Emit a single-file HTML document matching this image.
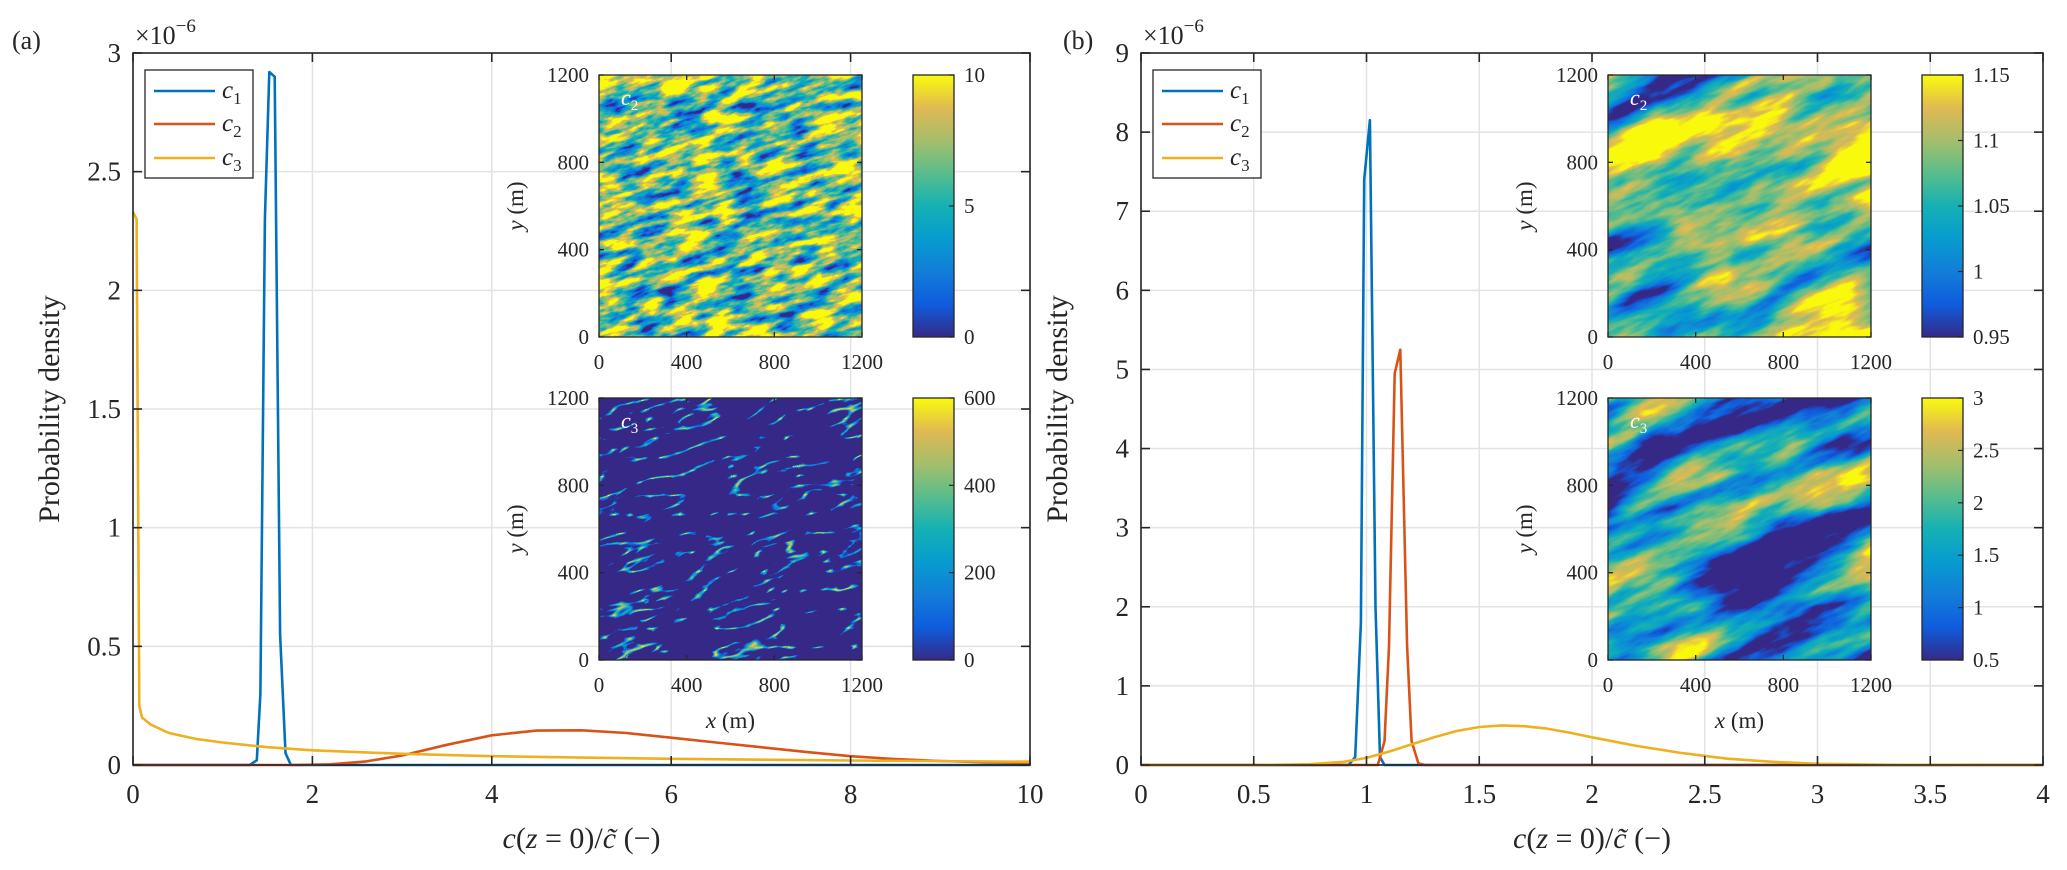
<!DOCTYPE html>
<html><head><meta charset="utf-8"><style>
html,body{margin:0;padding:0;background:#fff}
svg{display:block;font-family:"Liberation Serif","DejaVu Serif",serif}
</style></head><body>
<svg id="fig" width="2067" height="870" viewBox="0 0 2067 870" xmlns="http://www.w3.org/2000/svg">
<defs>
<linearGradient id="parula" x1="0" y1="1" x2="0" y2="0">
<stop offset="0" stop-color="#352a87"/><stop offset="0.125" stop-color="#0f5cdd"/><stop offset="0.25" stop-color="#127dd8"/><stop offset="0.375" stop-color="#079ccf"/><stop offset="0.5" stop-color="#15b1b4"/><stop offset="0.625" stop-color="#59bd8c"/><stop offset="0.75" stop-color="#a5be6b"/><stop offset="0.875" stop-color="#e1b952"/><stop offset="1" stop-color="#f9fb0e"/>
</linearGradient>
<filter id="fa2" x="0" y="0" width="1" height="1" color-interpolation-filters="sRGB">
<feTurbulence type="fractalNoise" baseFrequency="0.03 0.1" numOctaves="4" seed="3"/>
<feColorMatrix type="matrix" values="2.4 0 0 0 -0.55  2.4 0 0 0 -0.55  2.4 0 0 0 -0.55  0 0 0 0 1"/>
<feComponentTransfer><feFuncR type="table" tableValues="0.21 0.06 0.07 0.03 0.08 0.35 0.65 0.88 0.98"/><feFuncG type="table" tableValues="0.16 0.36 0.49 0.61 0.69 0.74 0.75 0.73 0.98"/><feFuncB type="table" tableValues="0.53 0.87 0.85 0.81 0.71 0.55 0.42 0.32 0.05"/></feComponentTransfer>
</filter>
<filter id="fa3" x="0" y="0" width="1" height="1" color-interpolation-filters="sRGB">
<feTurbulence type="turbulence" baseFrequency="0.016 0.05" numOctaves="3" seed="7"/>
<feColorMatrix type="matrix" values="-8 0 0 0 1.1  -8 0 0 0 1.1  -8 0 0 0 1.1  0 0 0 0 1"/>
<feComponentTransfer><feFuncR type="table" tableValues="0.21 0.06 0.07 0.03 0.08 0.35 0.65 0.88 0.98"/><feFuncG type="table" tableValues="0.16 0.36 0.49 0.61 0.69 0.74 0.75 0.73 0.98"/><feFuncB type="table" tableValues="0.53 0.87 0.85 0.81 0.71 0.55 0.42 0.32 0.05"/></feComponentTransfer>
</filter>
<filter id="fb2" x="0" y="0" width="1" height="1" color-interpolation-filters="sRGB">
<feTurbulence type="fractalNoise" baseFrequency="0.006 0.022" numOctaves="5" seed="11"/>
<feColorMatrix type="matrix" values="2.6 0 0 0 -0.65  2.6 0 0 0 -0.65  2.6 0 0 0 -0.65  0 0 0 0 1"/>
<feComponentTransfer><feFuncR type="table" tableValues="0.21 0.06 0.07 0.03 0.08 0.35 0.65 0.88 0.98"/><feFuncG type="table" tableValues="0.16 0.36 0.49 0.61 0.69 0.74 0.75 0.73 0.98"/><feFuncB type="table" tableValues="0.53 0.87 0.85 0.81 0.71 0.55 0.42 0.32 0.05"/></feComponentTransfer>
</filter>
<filter id="fb3" x="0" y="0" width="1" height="1" color-interpolation-filters="sRGB">
<feTurbulence type="fractalNoise" baseFrequency="0.006 0.022" numOctaves="5" seed="11"/>
<feColorMatrix type="matrix" values="2.6 0 0 0 -0.9  2.6 0 0 0 -0.9  2.6 0 0 0 -0.9  0 0 0 0 1"/>
<feComponentTransfer><feFuncR type="table" tableValues="0.21 0.06 0.07 0.03 0.08 0.35 0.65 0.88 0.98"/><feFuncG type="table" tableValues="0.16 0.36 0.49 0.61 0.69 0.74 0.75 0.73 0.98"/><feFuncB type="table" tableValues="0.53 0.87 0.85 0.81 0.71 0.55 0.42 0.32 0.05"/></feComponentTransfer>
</filter>
</defs>
</svg>
<script>
// ---- Panel (a) data (y in units of 1e-6) ----
const aC1x = [0, 1.3, 1.38, 1.42, 1.47, 1.52, 1.58, 1.64, 1.7, 1.76, 10];
const aC1y = [0, 0, 0.02, 0.3, 2.3, 2.92, 2.9, 0.55, 0.05, 0, 0];
const aC2x = [0, 1.8, 2.2, 2.6, 3, 3.5, 4, 4.5, 5, 5.5, 6, 6.5, 7, 7.5, 8, 8.5, 9, 9.5, 10];
const aC2y = [0, 0, 0.003, 0.015, 0.04, 0.085, 0.125, 0.145, 0.146, 0.135, 0.115, 0.095, 0.075, 0.055, 0.037, 0.025, 0.017, 0.012, 0.009];
const aC3x = [0, 0.04, 0.07, 0.1, 0.2, 0.4, 0.7, 1, 1.5, 2, 3, 4, 5, 6, 8, 10];
const aC3y = [2.33, 2.3, 0.25, 0.2, 0.17, 0.135, 0.11, 0.095, 0.075, 0.062, 0.047, 0.037, 0.031, 0.026, 0.019, 0.014];
const aXTicks = [0, 2, 4, 6, 8, 10];
const aYTicks = [0, 0.5, 1, 1.5, 2, 2.5, 3];
const aYTickLabels = ["0", "0.5", "1", "1.5", "2", "2.5", "3"];
// ---- Panel (b) data ----
const bC1x = [0, 0.92, 0.95, 0.975, 0.99, 1.015, 1.04, 1.06, 1.08, 4];
const bC1y = [0, 0, 0.1, 1.8, 7.4, 8.15, 2.0, 0.1, 0, 0];
const bC2x = [0, 1.05, 1.08, 1.1, 1.125, 1.15, 1.18, 1.2, 1.23, 1.26, 4];
const bC2y = [0, 0, 0.3, 1.5, 4.95, 5.25, 1.5, 0.3, 0.02, 0, 0];
const bC3x = [0, 0.5, 0.75, 0.9, 1.0, 1.1, 1.2, 1.3, 1.4, 1.5, 1.6, 1.7, 1.8, 1.9, 2.0, 2.2, 2.4, 2.6, 2.8, 3.0, 3.3, 3.6, 4];
const bC3y = [0, 0, 0.01, 0.04, 0.09, 0.17, 0.26, 0.35, 0.43, 0.48, 0.5, 0.49, 0.46, 0.41, 0.35, 0.24, 0.15, 0.08, 0.04, 0.015, 0.004, 0.001, 0];
const bXTicks = [0, 0.5, 1, 1.5, 2, 2.5, 3, 3.5, 4];
const bXTickLabels = ["0", "0.5", "1", "1.5", "2", "2.5", "3", "3.5", "4"];
const bYTicks = [0, 1, 2, 3, 4, 5, 6, 7, 8, 9];
// ---- inset colorbar ticks ----
const insetTicks = [0, 400, 800, 1200];
const cbA2 = [0, 5, 10];
const cbA3 = [0, 200, 400, 600];
const cbB2 = [0.95, 1, 1.05, 1.1, 1.15];
const cbB2Labels = ["0.95", "1", "1.05", "1.1", "1.15"];
const cbB3 = [0.5, 1, 1.5, 2, 2.5, 3];

const NS = "http://www.w3.org/2000/svg";
const svg = document.getElementById('fig');
function el(tag, attrs, parent, text) {
  const e = document.createElementNS(NS, tag);
  for (const k in attrs) e.setAttribute(k, attrs[k]);
  if (text !== undefined) e.textContent = text;
  (parent || svg).appendChild(e);
  return e;
}
const COLORS = ["#0072BD", "#D95319", "#EDB120"];

function panel(cfg) {
  const g = el('g', {});
  
  
  const X = v => cfg.x0 + (v - cfg.xmin) / (cfg.xmax - cfg.xmin) * (cfg.x1 - cfg.x0);
  const Y = v => cfg.y1 - (v - cfg.ymin) / (cfg.ymax - cfg.ymin) * (cfg.y1 - cfg.y0);
  const grid = el('g', {stroke: '#e3e3e3', 'stroke-width': 1.5}, g);
  
  
  cfg.xt.forEach(v => el('line', {x1: X(v), x2: X(v), y1: cfg.y0, y2: cfg.y1}, grid));
  cfg.yt.forEach(v => el('line', {x1: cfg.x0, x2: cfg.x1, y1: Y(v), y2: Y(v)}, grid));
  cfg.xt.forEach((v, i) => {
    const t = el('text', {x: X(v), y: 803, 'text-anchor': 'middle', 'font-size': 27, fill: '#262626'}, g, cfg.xl[i]);
    
    
  });
  cfg.yt.forEach((v, i) => {
    const t = el('text', {x: cfg.x0 - 12, y: Y(v) + 9, 'text-anchor': 'end', 'font-size': 27, fill: '#262626'}, g, cfg.yl[i]);
    
    
  });
  cfg.series.forEach((s, k) => {
    const d = s[0].map((v, i) => (i ? 'L' : 'M') + X(v).toFixed(1) + ',' + Y(s[1][i]).toFixed(1)).join('');
    const p = el('path', {d: d, fill: 'none', stroke: COLORS[k], 'stroke-width': 2.6, 'stroke-linejoin': 'round'}, g);
    
    
  });
  const fr = el('g', {stroke: '#262626', 'stroke-width': 1.6, fill: 'none'}, g);
  
  
  el('rect', {x: cfg.x0, y: cfg.y0, width: cfg.x1 - cfg.x0, height: cfg.y1 - cfg.y0}, fr);
  cfg.xt.forEach(v => {
    el('line', {x1: X(v), x2: X(v), y1: cfg.y1, y2: cfg.y1 - 9}, fr);
    el('line', {x1: X(v), x2: X(v), y1: cfg.y0, y2: cfg.y0 + 9}, fr);
  });
  cfg.yt.forEach(v => {
    el('line', {x1: cfg.x0, x2: cfg.x0 + 9, y1: Y(v), y2: Y(v)}, fr);
    el('line', {x1: cfg.x1, x2: cfg.x1 - 9, y1: Y(v), y2: Y(v)}, fr);
  });
  const lab = el('text', {x: cfg.labX, y: 49, 'font-size': 26, fill: '#262626'}, g, cfg.label);
  
  
  const ex = el('text', {x: cfg.x0 + 2, y: 44, 'font-size': 26, fill: '#262626'}, g);
  
  
  ex.innerHTML = '×10<tspan dy="-12" font-size="19">−6</tspan>';
  const yl = el('text', {x: 0, y: 0, 'text-anchor': 'middle', 'font-size': 30, fill: '#262626', transform: `translate(${cfg.x0 - 74},${(cfg.y0 + cfg.y1) / 2}) rotate(-90)`}, g, 'Probability density');
  
  
  const xl = el('text', {x: (cfg.x0 + cfg.x1) / 2, y: 848, 'text-anchor': 'middle', 'font-size': 30, fill: '#262626'}, g);
  
  
  xl.innerHTML = '<tspan font-style="italic">c</tspan>(<tspan font-style="italic">z</tspan> = 0)/<tspan font-style="italic">c̃</tspan> (−)';
  const lg = el('g', {}, g);
  
  
  el('rect', {x: cfg.x0 + 12, y: 70, width: 108, height: 108, fill: '#fff', stroke: '#262626', 'stroke-width': 1.3}, lg);
  [91, 124, 158].forEach((yy, k) => {
    const le = el('g', {}, lg);
    
    
    el('line', {x1: cfg.x0 + 21, x2: cfg.x0 + 82, y1: yy, y2: yy, stroke: COLORS[k], 'stroke-width': 2.6}, le);
    const t = el('text', {x: cfg.x0 + 89, y: yy + 7, 'font-size': 25, fill: '#262626'}, le);
    t.innerHTML = '<tspan font-style="italic">c</tspan><tspan font-size="17" dy="6">' + (k + 1) + '</tspan>';
  });
  return g;
}

function inset(ix, iy, filt, rot, label, cbVals, cbLabels, cbMin, cbMax, showXLabel, name) {
  const w = 263, h = 262;
  const g = el('g', {});
  
  
  const cid = 'clip' + name;
  const cp = el('clipPath', {id: cid}, g);
  el('rect', {x: ix, y: iy, width: w, height: h}, cp);
  const hg = el('g', {'clip-path': `url(#${cid})`}, g);
  
  
  const rg = el('g', {transform: `rotate(${rot},${ix + w / 2},${iy + h / 2})`}, hg);
  el('rect', {x: ix - 120, y: iy - 120, width: w + 240, height: h + 240, filter: `url(#${filt})`, fill: '#000'}, rg);
  const fr = el('g', {stroke: '#262626', 'stroke-width': 1.3, fill: 'none'}, g);
  el('rect', {x: ix, y: iy, width: w, height: h}, fr);
  insetTicks.forEach(v => {
    const px = ix + v / 1200 * w, py = iy + h - v / 1200 * h;
    el('line', {x1: px, x2: px, y1: iy + h, y2: iy + h - 5}, fr);
    el('line', {x1: px, x2: px, y1: iy, y2: iy + 5}, fr);
    el('line', {x1: ix, x2: ix + 5, y1: py, y2: py}, fr);
    el('line', {x1: ix + w, x2: ix + w - 5, y1: py, y2: py}, fr);
    const tx = el('text', {x: px, y: iy + h + 32, 'text-anchor': 'middle', 'font-size': 21, fill: '#262626'}, g, String(v));
    
    
    const ty = el('text', {x: ix - 10, y: py + 7, 'text-anchor': 'end', 'font-size': 21, fill: '#262626'}, g, String(v));
    
    
  });
  const lab = el('text', {x: ix + 22, y: iy + 30, 'font-size': 22, fill: '#fff', 'font-style': 'italic'}, g);
  
  
  lab.innerHTML = 'c<tspan font-size="15" dy="5" font-style="normal">' + label + '</tspan>';
  const yl = el('text', {x: 0, y: 0, 'text-anchor': 'middle', 'font-size': 23, fill: '#262626', transform: `translate(${ix - 76},${iy + h / 2}) rotate(-90)`}, g);
  
  
  yl.innerHTML = '<tspan font-style="italic">y</tspan> (m)';
  if (showXLabel) {
    const xl = el('text', {x: ix + w / 2, y: iy + h + 68, 'text-anchor': 'middle', 'font-size': 23, fill: '#262626'}, g);
    
    
    xl.innerHTML = '<tspan font-style="italic">x</tspan> (m)';
  }
  const cx = ix + 314, cw = 41;
  const cb = el('g', {}, g);
  
  
  el('rect', {x: cx, y: iy, width: cw, height: h, fill: 'url(#parula)', stroke: '#262626', 'stroke-width': 1.3}, cb);
  cbVals.forEach((v, i) => {
    const py = iy + h - (v - cbMin) / (cbMax - cbMin) * h;
    el('line', {x1: cx + cw, x2: cx + cw - 5, y1: py, y2: py, stroke: '#262626', 'stroke-width': 1.2}, cb);
    const t = el('text', {x: cx + cw + 10, y: py + 7, 'font-size': 21, fill: '#262626'}, cb, cbLabels[i]);
    
    
  });
}

panel({name: 'panel-a', x0: 133, x1: 1030, y0: 53, y1: 765, xmin: 0, xmax: 10, ymin: 0, ymax: 3,
  xt: aXTicks, xl: aXTicks.map(String), yt: aYTicks, yl: aYTickLabels, label: '(a)', labX: 12,
  series: [[aC1x, aC1y], [aC2x, aC2y], [aC3x, aC3y]]});
panel({name: 'panel-b', x0: 1141, x1: 2043, y0: 53, y1: 765, xmin: 0, xmax: 4, ymin: 0, ymax: 9,
  xt: bXTicks, xl: bXTickLabels, yt: bYTicks, yl: bYTicks.map(String), label: '(b)', labX: 1063,
  series: [[bC1x, bC1y], [bC2x, bC2y], [bC3x, bC3y]]});

inset(599, 75, 'fa2', -18, '2', cbA2, cbA2.map(String), 0, 10, false, 'inset-a-c2');
inset(599, 398, 'fa3', -18, '3', cbA3, cbA3.map(String), 0, 600, true, 'inset-a-c3');
inset(1608, 75, 'fb2', -22, '2', cbB2, cbB2Labels, 0.95, 1.15, false, 'inset-b-c2');
inset(1608, 398, 'fb3', -22, '3', cbB3, cbB3.map(String), 0.5, 3, true, 'inset-b-c3');
</script>
</body></html>
